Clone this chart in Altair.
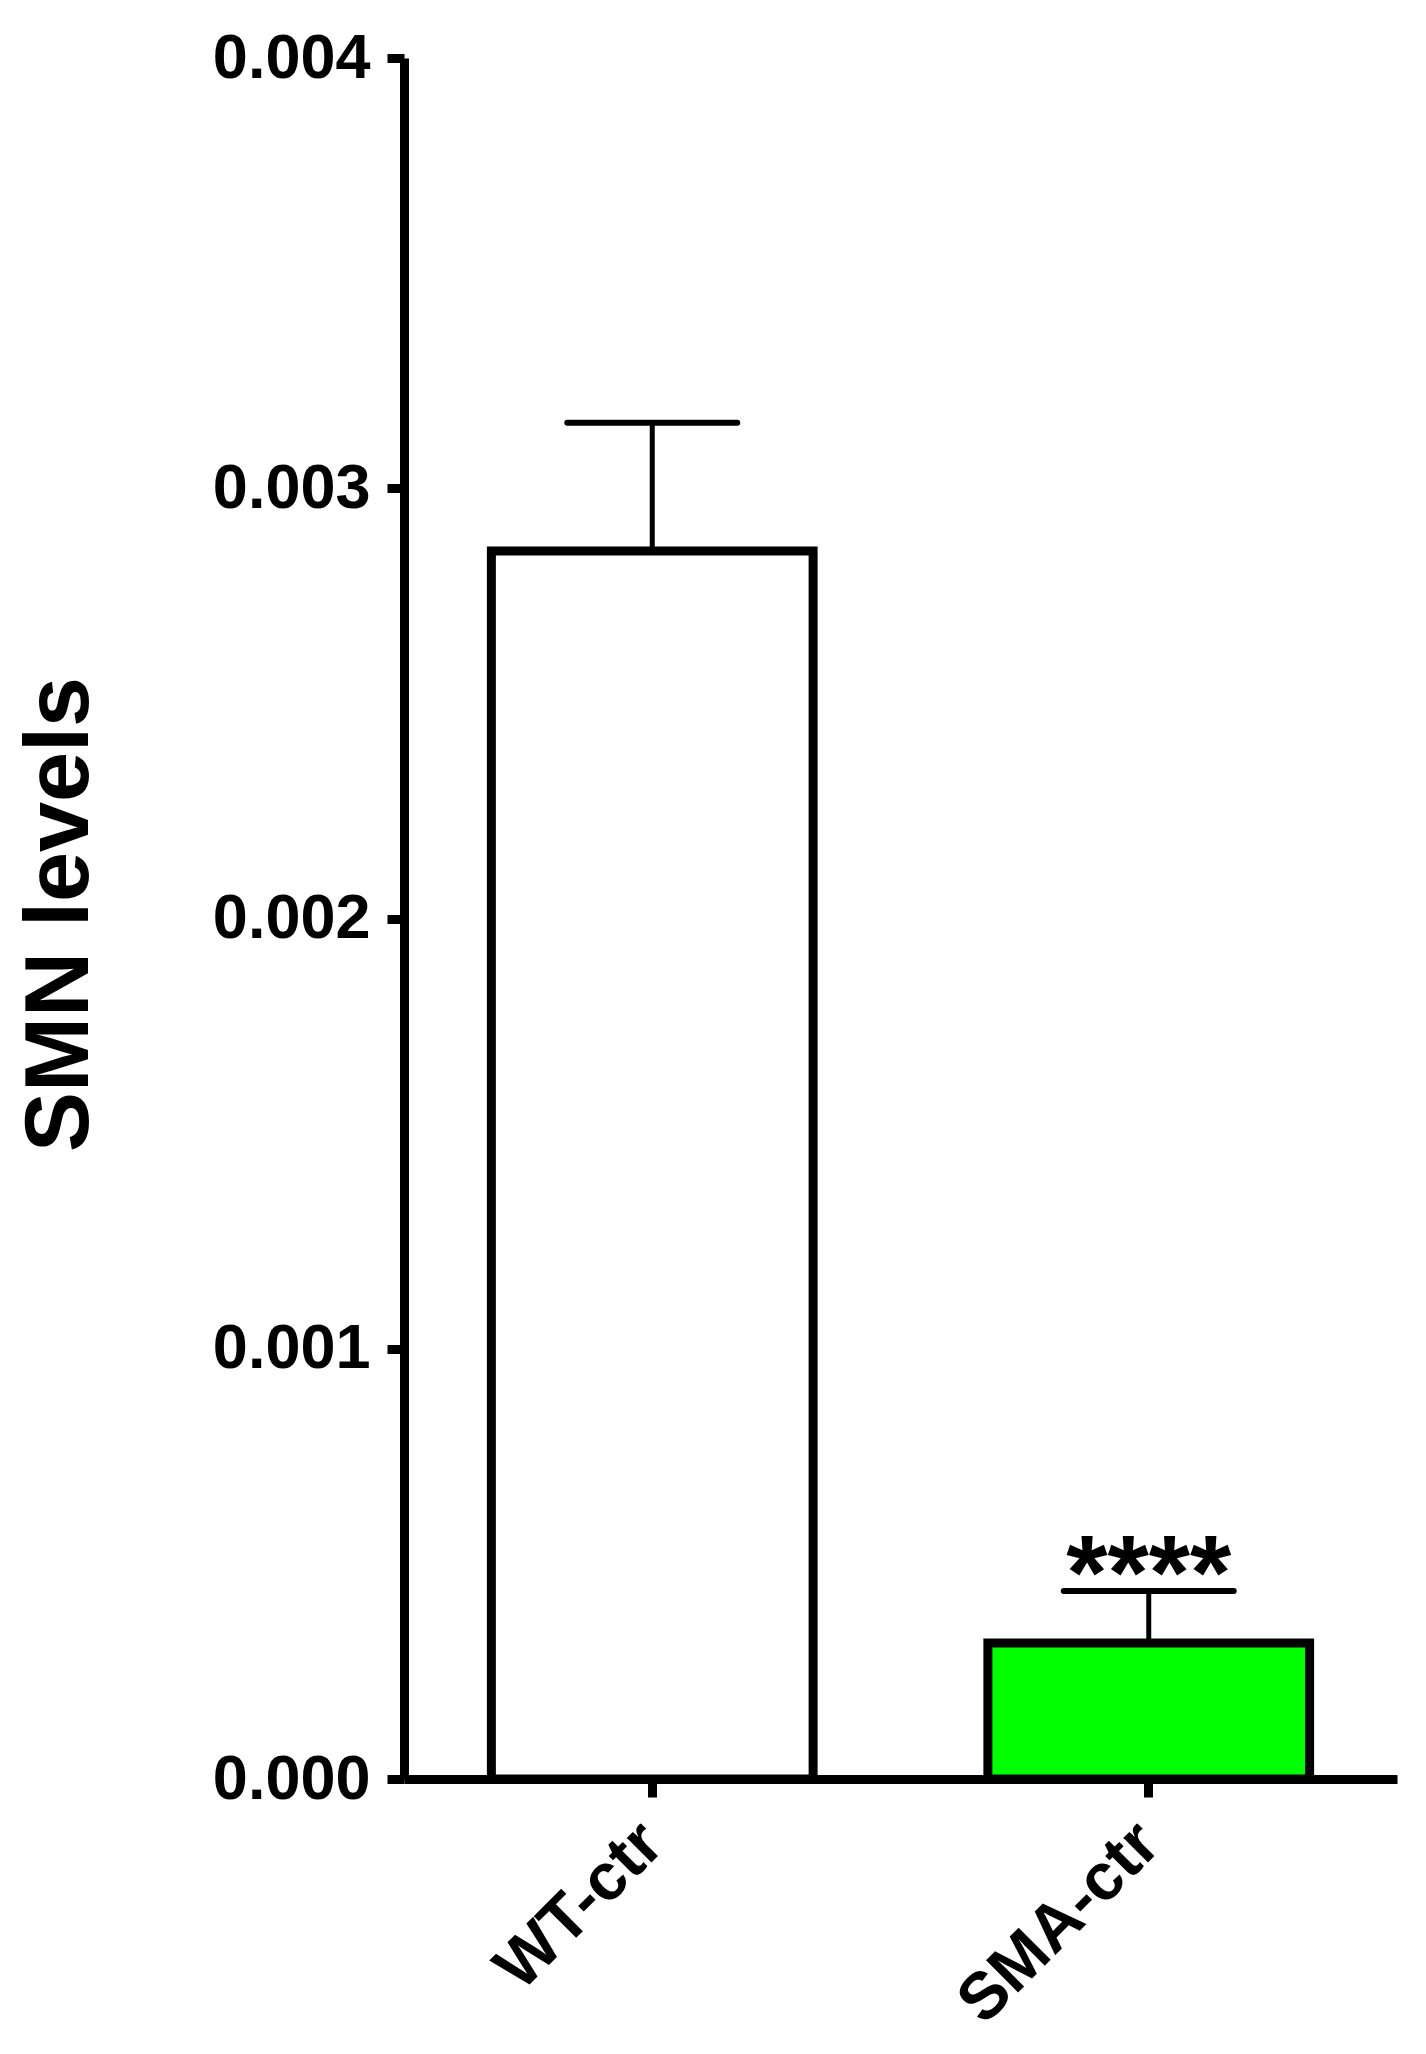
import altair as alt
import pandas as pd

categories = ["WT-ctr", "SMA-ctr"]
means = [0.002854, 0.000316]
err_top = [0.003152, 0.000437]
fills = ["#ffffff", "#00ff00"]
stars = ["", "****"]
y_ticks = [0.0, 0.001, 0.002, 0.003, 0.004]

df = pd.DataFrame({"cat": categories, "mean": means, "err": err_top, "star": stars})

FONT = "Liberation Sans"

xenc = alt.X(
    "cat:N",
    sort=categories,
    scale=alt.Scale(paddingInner=0.352, paddingOuter=0.176),
    axis=alt.Axis(
        title=None,
        labelAngle=-45,
        labelAlign="right",
        labelBaseline="middle",
        labelFont=FONT,
        labelFontSize=66,
        labelFontWeight="bold",
        labelColor="black",
        labelPadding=36,
        labelLimit=0,
        tickSize=18,
        tickWidth=9,
        tickColor="black",
        domainColor="black",
        domainWidth=9,
    ),
)

yscale = alt.Scale(domain=[0, 0.004], nice=False, zero=True)

bars = alt.Chart(df).mark_bar(stroke="black", strokeWidth=9).encode(
    x=xenc,
    y=alt.Y(
        "mean:Q",
        scale=yscale,
        axis=alt.Axis(
            values=y_ticks,
            format=".3f",
            title="SMN levels",
            titleFont=FONT,
            titleFontSize=90,
            titleFontWeight="bold",
            titleColor="black",
            titleAngle=270,
            titleAlign="center",
            titleBaseline="middle",
            titleX=-344,
            titleY=856,
            labelFont=FONT,
            labelFontSize=63,
            labelFontWeight="bold",
            labelColor="black",
            labelPadding=17,
            labelLimit=0,
            tickSize=17,
            tickWidth=9,
            tickColor="black",
            domainColor="black",
            domainWidth=9,
            grid=False,
        ),
    ),
    color=alt.Color("cat:N", scale=alt.Scale(domain=categories, range=fills), legend=None),
)

err_line = alt.Chart(df).mark_rule(color="black", strokeWidth=5).encode(
    x=alt.X("cat:N", sort=categories),
    y=alt.Y("mean:Q", scale=yscale),
    y2="err:Q",
)

err_cap = alt.Chart(df).mark_rule(color="black", strokeWidth=6, strokeCap="round", xOffset=-85, x2Offset=85).encode(
    x=alt.X("cat:N", sort=categories),
    x2="cat:N",
    y=alt.Y("err:Q", scale=yscale),
)

star_text = alt.Chart(df).mark_text(
    font=FONT, fontSize=106, fontWeight="bold", color="black", baseline="alphabetic", align="center", dy=18
).encode(
    x=alt.X("cat:N", sort=categories),
    y=alt.Y("err:Q", scale=yscale),
    text="star:N",
)

chart = alt.layer(err_line, err_cap, bars, star_text).properties(
    width=993,
    height=1721,
    autosize="none",
    padding={"left": 396, "top": 50, "right": 20, "bottom": 260},
).configure(background="white").configure_view(stroke=None, strokeWidth=0)

chart.save("out.html", embed_options={"renderer": "svg", "actions": False})
